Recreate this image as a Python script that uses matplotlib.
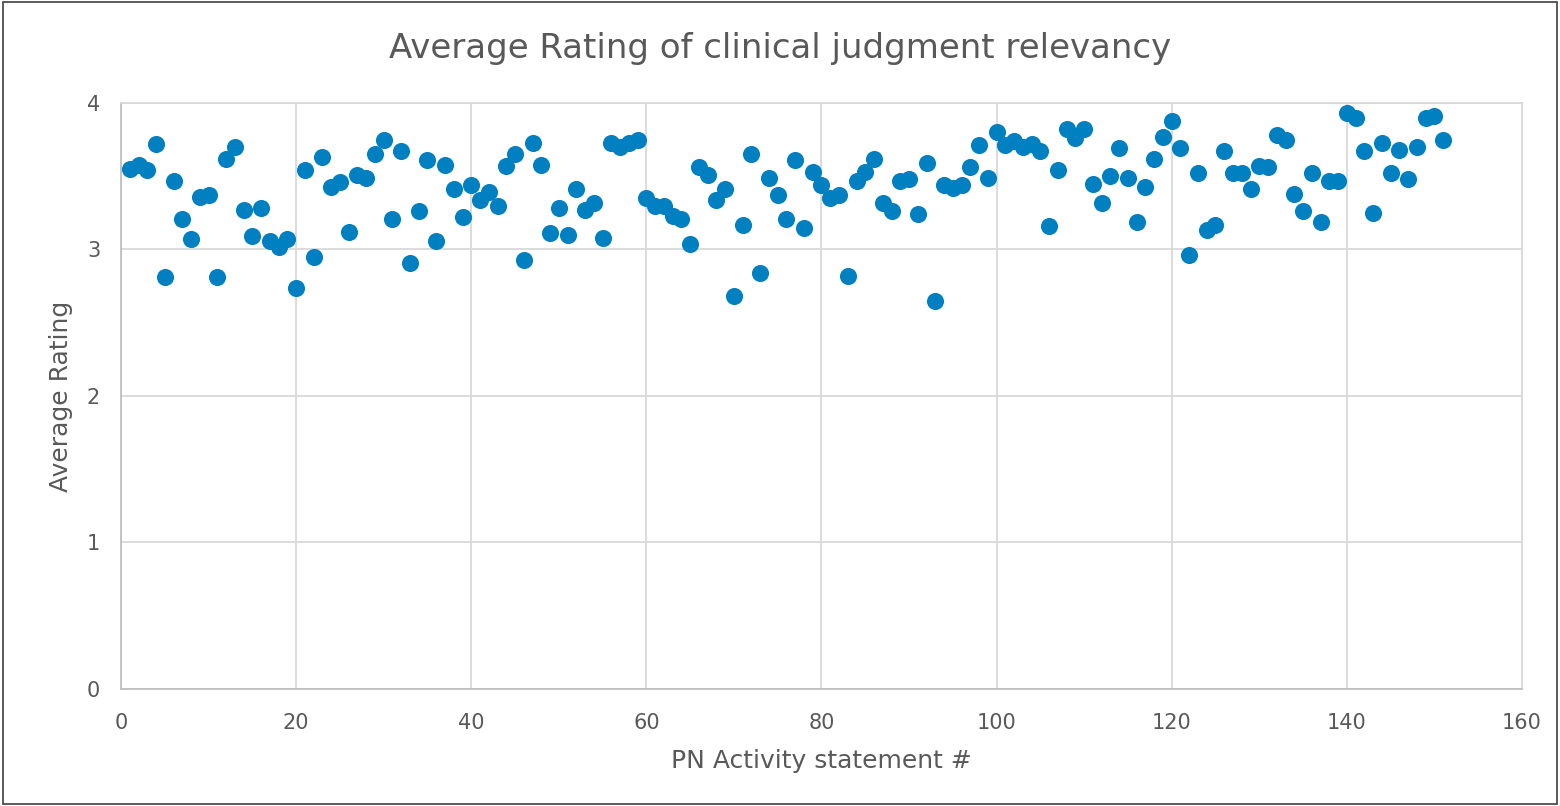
import matplotlib.pyplot as plt
from matplotlib.patches import Rectangle

# 151 statements, one rating each
statement = list(range(1, 152))
rating = [
    3.55, 3.58, 3.54, 3.72, 2.81, 3.47, 3.21, 3.07, 3.36, 3.37,
    2.81, 3.62, 3.70, 3.27, 3.09, 3.28, 3.06, 3.02, 3.07, 2.74,
    3.54, 2.95, 3.63, 3.43, 3.46, 3.12, 3.51, 3.49, 3.65, 3.75,
    3.21, 3.67, 2.91, 3.26, 3.61, 3.06, 3.58, 3.41, 3.22, 3.44,
    3.34, 3.39, 3.30, 3.57, 3.65, 2.93, 3.73, 3.58, 3.11, 3.28,
    3.10, 3.41, 3.27, 3.32, 3.08, 3.73, 3.70, 3.73, 3.75, 3.35,
    3.30, 3.30, 3.23, 3.21, 3.04, 3.56, 3.51, 3.34, 3.41, 2.68,
    3.17, 3.65, 2.84, 3.49, 3.37, 3.21, 3.61, 3.15, 3.53, 3.44,
    3.35, 3.37, 2.82, 3.47, 3.53, 3.62, 3.32, 3.26, 3.47, 3.48,
    3.24, 3.59, 2.65, 3.44, 3.42, 3.44, 3.56, 3.71, 3.49, 3.80,
    3.71, 3.74, 3.70, 3.72, 3.67, 3.16, 3.54, 3.82, 3.76, 3.82,
    3.45, 3.32, 3.50, 3.69, 3.49, 3.19, 3.43, 3.62, 3.77, 3.88,
    3.69, 2.96, 3.52, 3.13, 3.17, 3.67, 3.52, 3.52, 3.41, 3.57,
    3.56, 3.78, 3.75, 3.38, 3.26, 3.52, 3.19, 3.47, 3.47, 3.93,
    3.90, 3.67, 3.25, 3.73, 3.52, 3.68, 3.48, 3.70, 3.90, 3.91,
    3.75,
]
x_ticks = [0, 20, 40, 60, 80, 100, 120, 140, 160]
y_ticks = [0, 1, 2, 3, 4]

plt.rcParams['font.family'] = ['DejaVu Sans']
grey = '#595959'
gridc = '#D9D9D9'

fig = plt.figure(figsize=(15.6, 8.06), dpi=100)
ax = fig.add_axes([0.0776, 0.1452, 0.898, 0.727])

ax.plot(statement, rating, 'o', color='#0080C0', markersize=12.3,
        markeredgewidth=0, zorder=3)

ax.set_xlim(0, 160)
ax.set_ylim(0, 4)
ax.set_xticks(x_ticks)
ax.set_yticks(y_ticks)
ax.grid(True, color=gridc, linewidth=1.3)
ax.set_axisbelow(True)
for s in ax.spines.values():
    s.set_color(gridc)
    s.set_linewidth(1.3)
ax.spines['left'].set_color('#BFBFBF')
ax.spines['bottom'].set_color('#BFBFBF')
ax.tick_params(axis='x', length=0, labelsize=15, labelcolor=grey, pad=17)
ax.tick_params(axis='y', length=0, labelsize=15, labelcolor=grey, pad=15)

ax.set_xlabel('PN Activity statement #', fontsize=18, color=grey, va='center')
ax.xaxis.set_label_coords(0.5, -0.123)
ax.set_ylabel('Average Rating', fontsize=18, color=grey, va='center')
ax.yaxis.set_label_coords(-0.043, 0.5)
fig.text(0.5, 0.94, 'Average Rating of clinical judgment relevancy',
         ha='center', va='center', fontsize=24.5, color=grey)

# outer chart border
fig.patches.append(Rectangle((0.002, 0.002), 0.996, 0.996, transform=fig.transFigure,
                             fill=False, edgecolor='#404040', linewidth=1.2))

fig.savefig('out.png', dpi=100)
